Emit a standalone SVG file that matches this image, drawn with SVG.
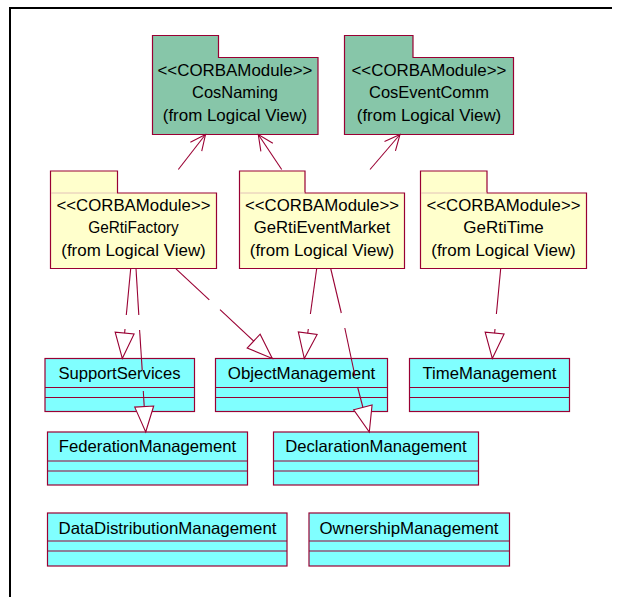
<svg xmlns="http://www.w3.org/2000/svg" width="621" height="605" viewBox="0 0 621 605">
  <defs>
    <style>
      .frame { stroke: #000; stroke-width: 2; fill: none; }
      .pkg-cos { fill: #87C6A9; stroke: #990033; stroke-width: 1.2; }
      .pkg-ge { fill: #FFFFCC; stroke: #990033; stroke-width: 1.2; }
      .tabline { stroke: #E2C2B8; stroke-width: 1; fill: none; }
      .cls { fill: #80FFFF; stroke: #990033; stroke-width: 1.2; }
      .div { stroke: #990033; stroke-width: 1; fill: none; }
      .conn { stroke: #990033; stroke-width: 1.1; fill: none; }
      text { font-family: "Liberation Sans", Arial, sans-serif; font-size: 16.5px; fill: #000; text-anchor: middle; }
    </style>
    <!-- open arrowhead for dependencies -->
    <marker id="open" markerUnits="userSpaceOnUse" markerWidth="20" markerHeight="20" viewBox="-18 -10 20 20" refX="0" refY="0" orient="auto">
      <path d="M-15.4,-7.2 L0,0 L-15.4,7.2" fill="none" stroke="#990033" stroke-width="1.1"/>
    </marker>
    <!-- hollow triangle for generalizations -->
    <marker id="tri" markerUnits="userSpaceOnUse" markerWidth="30" markerHeight="24" viewBox="-27 -12 30 24" refX="0" refY="0" orient="auto">
      <path d="M0,0 L-25.5,-9.5 L-25.5,9.5 Z" fill="#FFFFFF" stroke="#990033" stroke-width="1.1"/>
    </marker>
  </defs>

  <rect width="621" height="605" fill="#FFFFFF"/>
  <path class="frame" d="M10,597 L10,8 L612,8"/>

  <!-- packages -->
  <g id="CosNaming">
    <path class="pkg-cos" d="M152.5,35.5 H218.5 V57.5 H318 V134.5 H152.5 Z"/>
    <text x="235" y="75.5" textLength="155" lengthAdjust="spacingAndGlyphs">&lt;&lt;CORBAModule&gt;&gt;</text>
    <text x="235" y="97.5" textLength="86" lengthAdjust="spacingAndGlyphs">CosNaming</text>
    <text x="235" y="121" textLength="144.5" lengthAdjust="spacingAndGlyphs">(from Logical View)</text>
  </g>
  <g id="CosEventComm">
    <path class="pkg-cos" d="M344.5,35.5 H413 V57.5 H513.5 V134.5 H344.5 Z"/>
    <text x="429" y="75.5" textLength="155" lengthAdjust="spacingAndGlyphs">&lt;&lt;CORBAModule&gt;&gt;</text>
    <text x="429" y="97.5" textLength="120" lengthAdjust="spacingAndGlyphs">CosEventComm</text>
    <text x="429" y="121" textLength="144.5" lengthAdjust="spacingAndGlyphs">(from Logical View)</text>
  </g>
  <g id="GeRtiFactory">
    <path class="pkg-ge" d="M50.5,171 H117.5 V193 H216.5 V268.5 H50.5 Z"/>
    <line class="tabline" x1="51" y1="193" x2="117" y2="193"/>
    <text x="133.5" y="211" textLength="154" lengthAdjust="spacingAndGlyphs">&lt;&lt;CORBAModule&gt;&gt;</text>
    <text x="133.5" y="232.5" textLength="90.5" lengthAdjust="spacingAndGlyphs">GeRtiFactory</text>
    <text x="133.5" y="256" textLength="144.5" lengthAdjust="spacingAndGlyphs">(from Logical View)</text>
  </g>
  <g id="GeRtiEventMarket">
    <path class="pkg-ge" d="M239.5,171 H305 V193 H404.5 V268.5 H239.5 Z"/>
    <line class="tabline" x1="240" y1="193" x2="305" y2="193"/>
    <text x="322" y="211" textLength="154" lengthAdjust="spacingAndGlyphs">&lt;&lt;CORBAModule&gt;&gt;</text>
    <text x="322" y="232.5" textLength="136.5" lengthAdjust="spacingAndGlyphs">GeRtiEventMarket</text>
    <text x="322" y="256" textLength="144.5" lengthAdjust="spacingAndGlyphs">(from Logical View)</text>
  </g>
  <g id="GeRtiTime">
    <path class="pkg-ge" d="M420.5,171 H487 V193 H586.5 V268.5 H420.5 Z"/>
    <line class="tabline" x1="421" y1="193" x2="487" y2="193"/>
    <text x="503.5" y="211" textLength="154" lengthAdjust="spacingAndGlyphs">&lt;&lt;CORBAModule&gt;&gt;</text>
    <text x="503.5" y="232.5" textLength="80.5" lengthAdjust="spacingAndGlyphs">GeRtiTime</text>
    <text x="503.5" y="256" textLength="144.5" lengthAdjust="spacingAndGlyphs">(from Logical View)</text>
  </g>

  <!-- classes -->
  <g id="SupportServices">
    <rect class="cls" x="45" y="358.5" width="149.5" height="53"/>
    <path class="div" d="M45,387.5 H194.5 M45,397.5 H194.5"/>
    <text x="119.5" y="378.5" textLength="122" lengthAdjust="spacingAndGlyphs">SupportServices</text>
  </g>
  <g id="ObjectManagement">
    <rect class="cls" x="215.5" y="358.5" width="172" height="53"/>
    <path class="div" d="M215.5,387.5 H387.5 M215.5,397.5 H387.5"/>
    <text x="301.5" y="378.5" textLength="147.5" lengthAdjust="spacingAndGlyphs">ObjectManagement</text>
  </g>
  <g id="TimeManagement">
    <rect class="cls" x="409.5" y="358.5" width="160" height="53"/>
    <path class="div" d="M409.5,387.5 H569.5 M409.5,397.5 H569.5"/>
    <text x="489.5" y="378.5" textLength="134" lengthAdjust="spacingAndGlyphs">TimeManagement</text>
  </g>
  <g id="FederationManagement">
    <rect class="cls" x="47.5" y="432" width="200" height="53"/>
    <path class="div" d="M47.5,461 H247.5 M47.5,471 H247.5"/>
    <text x="147.5" y="452" textLength="177.5" lengthAdjust="spacingAndGlyphs">FederationManagement</text>
  </g>
  <g id="DeclarationManagement">
    <rect class="cls" x="273.5" y="432" width="205" height="53"/>
    <path class="div" d="M273.5,461 H478.5 M273.5,471 H478.5"/>
    <text x="376" y="452" textLength="181.5" lengthAdjust="spacingAndGlyphs">DeclarationManagement</text>
  </g>
  <g id="DataDistributionManagement">
    <rect class="cls" x="47.5" y="513" width="239.5" height="53"/>
    <path class="div" d="M47.5,541 H287 M47.5,551 H287"/>
    <text x="167.5" y="533.5" textLength="218" lengthAdjust="spacingAndGlyphs">DataDistributionManagement</text>
  </g>
  <g id="OwnershipManagement">
    <rect class="cls" x="309" y="513" width="200.5" height="53"/>
    <path class="div" d="M309,541 H509.5 M309,551 H509.5"/>
    <text x="409" y="533.5" textLength="179" lengthAdjust="spacingAndGlyphs">OwnershipManagement</text>
  </g>

  <!-- connectors -->
  <g id="connectors">
    <!-- dependencies on the CORBA services -->
    <line class="conn" x1="178.3" y1="169.5" x2="205.5" y2="134.5" marker-end="url(#open)"/>
    <line class="conn" x1="281.7" y1="169.5" x2="258.3" y2="134.5" marker-end="url(#open)"/>
    <line class="conn" x1="370" y1="169.5" x2="400" y2="134.5" marker-end="url(#open)"/>

    <!-- GeRtiFactory -> SupportServices -->
    <line class="conn" x1="130.7" y1="268.5" x2="126.3" y2="315"/>
    <line class="conn" x1="125" y1="329" x2="122.3" y2="358.5" marker-end="url(#tri)"/>
    <!-- GeRtiFactory -> FederationManagement -->
    <line class="conn" x1="136" y1="268.5" x2="138.8" y2="315"/>
    <line class="conn" x1="139.6" y1="330" x2="142.2" y2="370"/>
    <line class="conn" x1="143.3" y1="391" x2="145.7" y2="432" marker-end="url(#tri)"/>
    <!-- GeRtiFactory -> ObjectManagement -->
    <line class="conn" x1="176" y1="268.8" x2="209.3" y2="299.8"/>
    <line class="conn" x1="220" y1="309.7" x2="272.3" y2="358.5" marker-end="url(#tri)"/>
    <!-- GeRtiEventMarket -> ObjectManagement -->
    <line class="conn" x1="316.7" y1="268.5" x2="310.4" y2="314"/>
    <line class="conn" x1="308.3" y1="329" x2="304.3" y2="358.5" marker-end="url(#tri)"/>
    <!-- GeRtiEventMarket -> DeclarationManagement -->
    <line class="conn" x1="330.7" y1="268.5" x2="341.3" y2="313"/>
    <line class="conn" x1="344.8" y1="328" x2="355" y2="376"/>
    <line class="conn" x1="357.6" y1="387" x2="369.3" y2="432" marker-end="url(#tri)"/>
    <!-- GeRtiTime -> TimeManagement -->
    <line class="conn" x1="500.7" y1="268.5" x2="496.4" y2="314"/>
    <line class="conn" x1="495" y1="329" x2="492.3" y2="358.5" marker-end="url(#tri)"/>
  </g>
</svg>
